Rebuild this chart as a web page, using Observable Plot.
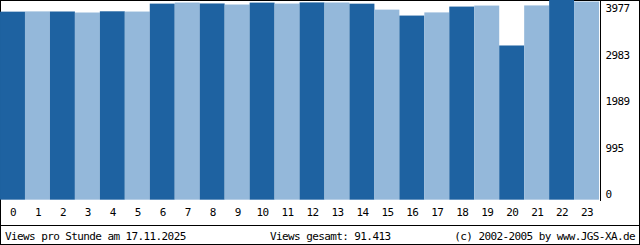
<!DOCTYPE html>
<html><head><meta charset="utf-8">
<script src="https://cdn.jsdelivr.net/npm/d3@7"></script>
<script src="https://cdn.jsdelivr.net/npm/@observablehq/plot@0.6"></script>
<style>
html,body{margin:0;padding:0;background:#fff;}
#wrap{position:relative;width:640px;height:245px;box-sizing:border-box;border:1px solid #000;font-family:"DejaVu Sans Mono",monospace;font-size:11px;letter-spacing:-0.6px;color:#000;}
#chart{position:absolute;left:-1px;top:-1px;}
.ft{position:absolute;top:230px;line-height:11px;white-space:pre;}
#sep{position:absolute;left:0;right:0;top:224px;height:1px;background:#000;}
#vdiv{position:absolute;left:599px;top:-1px;width:1px;height:201px;background:#000;}
</style></head><body>
<div id="wrap">
  <div id="chart"></div>
  <div id="vdiv"></div>
  <div id="sep"></div>
  <div class="ft" id="f1" style="left:4px"></div>
  <div class="ft" id="f2" style="left:269px"></div>
  <div class="ft" id="f3" style="right:4px"></div>
</div>
<script>
const hours = [0,1,2,3,4,5,6,7,8,9,10,11,12,13,14,15,16,17,18,19,20,21,22,23];
const views = [3745,3750,3748,3728,3752,3747,3905,3926,3908,3887,3925,3906,3929,3927,3904,3785,3667,3730,3846,3866,3071,3869,3977,3946];
const yTicks = [0, 995, 1989, 2983, 3977];
const footerLeft = "Views pro Stunde am 17.11.2025";
const footerMid = "Views gesamt: 91.413";
const footerRight = "(c) 2002-2005 by www.JGS-XA.de";

const dark = "#1e62a1";
const light = "#94b8da";
const labelDy = [-2, 1.6, 5, 8.4, 11.8];

const data = hours.map((h, i) => ({hour: h, views: views[i]}));

const chart = Plot.plot({
  width: 640, height: 245,
  marginTop: 0, marginLeft: 0, marginRight: 40, marginBottom: 45,
  style: {fontFamily: "'DejaVu Sans Mono', monospace", fontSize: "11px", letterSpacing: "-0.6px", background: "transparent", overflow: "visible", color: "#000"},
  x: {type: "band", domain: hours, padding: 0, axis: null},
  y: {domain: [0, 3977], axis: null},
  marks: [
    Plot.barY(data, {x: "hour", y: "views", fill: d => d.hour % 2 ? light : dark}),
    Plot.text(hours, {x: d => d, text: d => String(d), frameAnchor: "bottom", dy: 16, lineAnchor: "bottom", fill: "#000"}),
    ...yTicks.map((v, i) => Plot.text([v], {y: d => d, text: d => String(d), frameAnchor: "right", dx: 6, textAnchor: "start", lineAnchor: "bottom", dy: labelDy[i], fill: "#000"}))
  ]
});
document.getElementById("chart").appendChild(chart);
document.getElementById("f1").textContent = footerLeft;
document.getElementById("f2").textContent = footerMid;
document.getElementById("f3").textContent = footerRight;
</script>
</body></html>
